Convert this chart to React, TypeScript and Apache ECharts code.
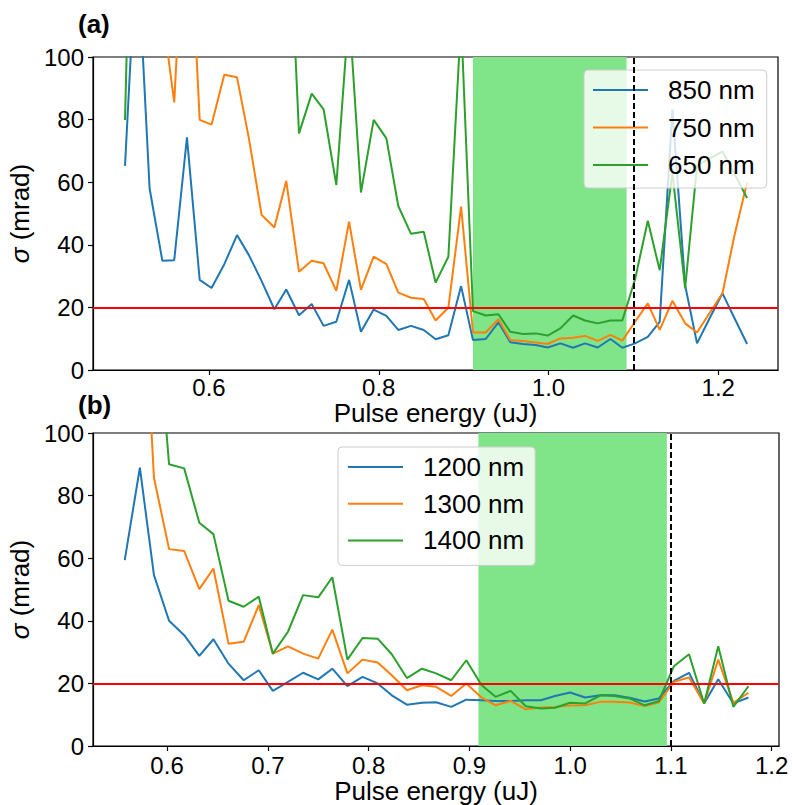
import React, { useEffect, useRef } from 'react';
import * as echarts from 'echarts';

// ---------- data ----------
const topX = [0.501, 0.515, 0.530, 0.545, 0.559, 0.574, 0.589, 0.603, 0.618, 0.633, 0.647, 0.662, 0.677, 0.691, 0.706, 0.721, 0.735, 0.750, 0.765, 0.779, 0.794, 0.809, 0.823, 0.838, 0.853, 0.867, 0.882, 0.897, 0.911, 0.926, 0.941, 0.955, 0.970, 0.985, 0.999, 1.014, 1.029, 1.043, 1.058, 1.073, 1.087, 1.102, 1.117, 1.131, 1.146, 1.161, 1.175, 1.190, 1.205, 1.219, 1.234];
const s850 = [65.2, 138, 58.0, 34.9, 35.1, 74.3, 28.8, 26.2, 33.8, 43.1, 36.7, 28.4, 19.4, 25.7, 17.5, 21.1, 14.1, 15.4, 28.8, 12.2, 19.3, 17.3, 12.8, 14.1, 12.8, 9.8, 11.1, 26.8, 9.6, 9.9, 15.2, 8.9, 8.3, 8.0, 7.2, 8.5, 7.1, 8.5, 7.2, 9.9, 7.1, 8.5, 10.6, 15.4, 83.2, 27.0, 8.5, 16.6, 24.5, 16.6, 8.3];
const s750 = [150, 140, 125, 114.5, 85.5, 163, 79.9, 78.4, 94.3, 93.5, 74.0, 49.5, 45.5, 60.4, 31.4, 34.9, 34.1, 25.3, 47.4, 25.6, 36.2, 33.8, 24.7, 23.1, 22.7, 15.8, 19.9, 52.2, 12.0, 12.0, 16.2, 9.6, 9.3, 8.8, 8.3, 10.1, 10.3, 10.9, 9.3, 11.2, 9.4, 15.4, 21.3, 12.8, 22.1, 14.9, 12.0, 18.3, 24.5, 42.9, 60.0];
const s650 = [79.9, 230, 210, 190, 175, 200, 185, 170, 160, 180, 150, 145, 155, 166, 75.6, 88.3, 83.3, 59.1, 115, 56.7, 79.9, 74.0, 52.4, 43.5, 44.2, 27.9, 36.2, 112, 18.8, 17.4, 17.8, 12.2, 11.5, 11.7, 11.0, 13.3, 17.4, 15.8, 14.9, 15.8, 15.8, 29.0, 47.7, 31.9, 63.0, 26.1, 65.3, 67.6, 69.8, 62.8, 54.9];

const botX = [0.558, 0.573, 0.587, 0.602, 0.617, 0.632, 0.646, 0.661, 0.676, 0.691, 0.705, 0.720, 0.735, 0.750, 0.764, 0.779, 0.794, 0.809, 0.823, 0.838, 0.853, 0.867, 0.882, 0.897, 0.912, 0.926, 0.941, 0.956, 0.971, 0.985, 1.000, 1.015, 1.030, 1.044, 1.059, 1.074, 1.088, 1.103, 1.118, 1.133, 1.147, 1.162, 1.177];
const s1200 = [59.4, 88.9, 54.6, 40.0, 35.4, 28.8, 34.1, 26.3, 21.0, 24.2, 17.6, 20.5, 23.4, 21.3, 24.7, 19.1, 22.1, 20.0, 16.2, 13.2, 13.8, 14.0, 12.5, 14.8, 14.6, 14.4, 14.4, 14.6, 14.6, 16.0, 17.1, 15.5, 16.2, 16.2, 15.4, 14.2, 15.2, 20.8, 23.4, 13.6, 21.3, 13.6, 15.5];
const s1300 = [200, 170, 85.7, 62.9, 62.3, 50.1, 56.7, 32.7, 33.3, 45.0, 29.5, 31.8, 29.5, 27.9, 37.2, 23.2, 27.6, 26.7, 22.6, 17.8, 19.4, 18.9, 16.0, 20.0, 15.5, 13.0, 14.4, 11.7, 12.3, 12.5, 12.9, 13.0, 14.1, 14.1, 13.9, 12.8, 13.9, 20.5, 21.9, 13.6, 27.6, 13.8, 17.0];
const s1400 = [220, 180, 149, 90.0, 88.7, 71.3, 67.7, 46.4, 44.5, 47.7, 29.5, 36.5, 48.2, 47.5, 53.9, 27.6, 34.5, 34.3, 29.3, 21.7, 24.7, 23.2, 21.0, 27.4, 19.5, 15.7, 17.6, 12.7, 12.0, 12.2, 13.8, 13.6, 16.2, 16.0, 15.2, 13.0, 14.3, 25.5, 29.3, 13.6, 31.9, 12.5, 19.1];

const topNames = ['850 nm', '750 nm', '650 nm'];
const botNames = ['1200 nm', '1300 nm', '1400 nm'];
const topTicks = [0.6, 0.8, 1.0, 1.2];
const botTicks = [0.6, 0.7, 0.8, 0.9, 1.0, 1.1, 1.2];
const yTicks = [0, 20, 40, 60, 80, 100];
const topSpan = [0.911, 1.092];
const botSpan = [0.909, 1.096];
const topDash = 1.104;
const botDash = 1.103;
const threshold = 20;

const FONT = '"Liberation Sans", Arial, sans-serif';
const COLORS = ['#1f77b4', '#ff7f0e', '#2ca02c'];
const SPAN_COLOR = '#80e588';

export default function App() {
  const ref = useRef<HTMLDivElement>(null);
  useEffect(() => {
    document.body.style.margin = '0';
    const chart = echarts.init(ref.current!, null, { renderer: 'svg' });
    const zip = (xs: number[], ys: number[]) => xs.map((x, i) => [x, ys[i]]);

    const xAxis = (grid: number, min: number, max: number, ticks: number[], gap: number, margin: number) => ({
      type: 'value',
      gridIndex: grid,
      min,
      max,
      axisLine: { show: true, onZero: false, lineStyle: { color: '#000', width: 1.2 } },
      axisTick: { show: true, length: 5, customValues: ticks, lineStyle: { color: '#000', width: 1.2 } },
      axisLabel: {
        customValues: ticks,
        formatter: (v: number) => v.toFixed(1),
        fontSize: 24,
        color: '#000',
        margin,
        fontFamily: FONT,
      },
      splitLine: { show: false },
      name: 'Pulse energy (uJ)',
      nameLocation: 'middle',
      nameGap: gap,
      nameTextStyle: { fontSize: 26, color: '#000', fontFamily: FONT },
    });

    const yAxis = (grid: number) => ({
      type: 'value',
      gridIndex: grid,
      min: yTicks[0],
      max: yTicks[yTicks.length - 1],
      interval: 20,
      axisLine: { show: true, lineStyle: { color: '#000', width: 1.2 } },
      axisTick: { show: true, length: 5, lineStyle: { color: '#000', width: 1.2 } },
      axisLabel: { fontSize: 24, color: '#000', margin: 9, fontFamily: FONT },
      splitLine: { show: false },
      name: '{i|σ} (mrad)',
      nameLocation: 'middle',
      nameRotate: 90,
      nameGap: 52,
      nameTextStyle: {
        fontSize: 26,
        color: '#000',
        fontFamily: FONT,
        rich: { i: { fontStyle: 'italic', fontSize: 26, color: '#000', fontFamily: FONT } },
      },
    });

    const lineSeries = (grid: number, name: string, xs: number[], ys: number[], color: string, extra: any = {}) => ({
      type: 'line',
      name,
      xAxisIndex: grid,
      yAxisIndex: grid,
      data: zip(xs, ys),
      symbol: 'none',
      clip: true,
      lineStyle: { color, width: 2 },
      itemStyle: { color },
      ...extra,
    });

    const markers = (span: number[], dash: number) => ({
      markArea: {
        silent: true,
        itemStyle: { color: SPAN_COLOR, opacity: 1 },
        data: [[{ xAxis: span[0] }, { xAxis: span[1] }]],
      },
      markLine: {
        silent: true,
        symbol: ['none', 'none'],
        label: { show: false },
        animation: false,
        data: [
          { yAxis: threshold, lineStyle: { color: '#ff0000', width: 2, type: 'solid' } },
          { xAxis: dash, lineStyle: { color: '#000', width: 2, type: [6, 3] } },
        ],
      },
    });

    const legendCommon = {
      orient: 'vertical',
      icon: 'rect',
      itemWidth: 55,
      itemHeight: 2,
      backgroundColor: 'rgba(255,255,255,0.8)',
      borderColor: '#cccccc',
      borderWidth: 1,
      borderRadius: 4,
      textStyle: { fontSize: 26, color: '#000', fontFamily: FONT, lineHeight: 30, padding: [0, 0, 0, 15] },
    };

    const option: any = {
      animation: false,
      backgroundColor: '#fff',
      grid: [
        { left: 93, top: 57, width: 685, height: 313, show: true, borderColor: '#000', borderWidth: 1.2, backgroundColor: 'transparent', outerBoundsMode: 'none' },
        { left: 93, top: 433, width: 686, height: 313, show: true, borderColor: '#000', borderWidth: 1.2, backgroundColor: 'transparent', outerBoundsMode: 'none' },
      ],
      xAxis: [xAxis(0, 0.4633, 1.2704, topTicks, 9, 5), xAxis(1, 0.5265, 1.2073, botTicks, 31, 7)],
      yAxis: [yAxis(0), yAxis(1)],
      legend: [
        { ...legendCommon, left: 584, top: 70, padding: [5, 12, 8, 9], itemGap: 7.5, data: topNames },
        { ...legendCommon, left: 338, top: 447, padding: [5, 11, 10, 10], itemGap: 6.7, data: botNames },
      ],
      graphic: [
        { type: 'text', style: { x: 78, y: 24, text: '(a)', fontSize: 26, fontWeight: 'bold', fontFamily: FONT, fill: '#000', verticalAlign: 'middle' } },
        { type: 'text', style: { x: 78, y: 405, text: '(b)', fontSize: 26, fontWeight: 'bold', fontFamily: FONT, fill: '#000', verticalAlign: 'middle' } },
      ],
      series: [
        lineSeries(0, topNames[0], topX, s850, COLORS[0], markers(topSpan, topDash)),
        lineSeries(0, topNames[1], topX, s750, COLORS[1]),
        lineSeries(0, topNames[2], topX, s650, COLORS[2]),
        lineSeries(1, botNames[0], botX, s1200, COLORS[0], markers(botSpan, botDash)),
        lineSeries(1, botNames[1], botX, s1300, COLORS[1]),
        lineSeries(1, botNames[2], botX, s1400, COLORS[2]),
      ],
    };
    chart.setOption(option);
    return () => chart.dispose();
  }, []);
  return <div ref={ref} style={{ position: 'absolute', left: 0, top: 0, width: 792, height: 805 }} />;
}
